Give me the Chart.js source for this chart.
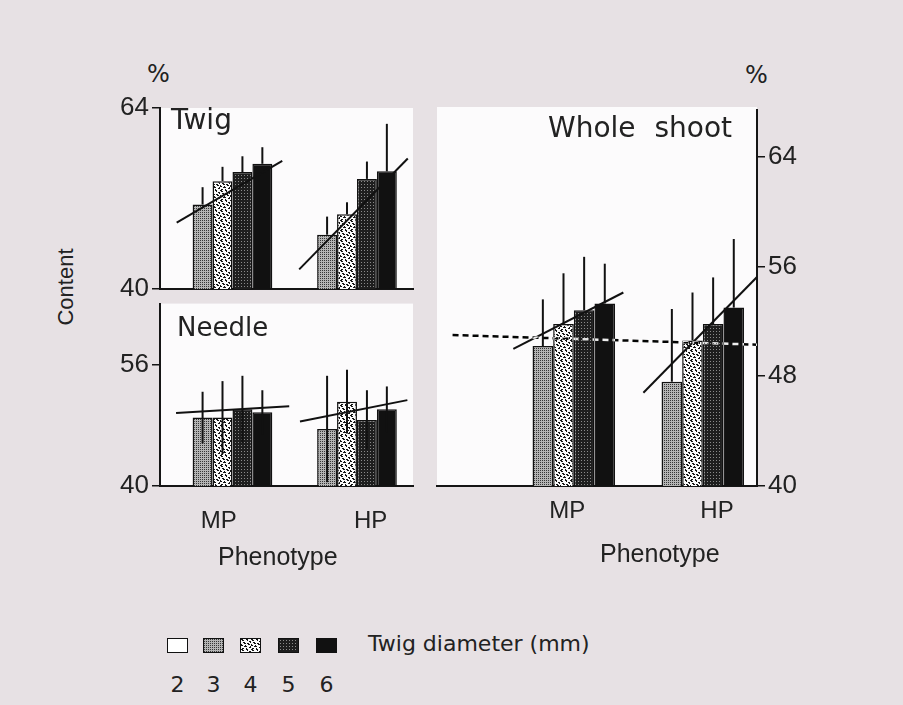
<!DOCTYPE html>
<html>
<head>
<meta charset="utf-8">
<script src="https://cdn.jsdelivr.net/npm/chart.js@4.4.1/dist/chart.umd.min.js"></script>
<style>
  body { margin: 0; width: 903px; height: 705px; background: #e7e1e4; position: relative; overflow: hidden;
         font-family: 'Liberation Sans', Arial, sans-serif; color: #222; }
  .box { position: absolute; }
  .t { position: absolute; line-height: 1; white-space: nowrap; }
  .g { font-family: 'DejaVu Sans', sans-serif; }
  .sw { position: absolute; top: 638px; width: 21px; height: 15px; border: 1.5px solid #111; box-sizing: border-box; }
  .num { position: absolute; top: 672px; font-size: 22px; transform: translateX(-50%); }
</style>
</head>
<body>

<div class="t g" style="left:147px;top:62px;font-size:24px">%</div>
<div class="t g" style="left:745px;top:63px;font-size:24px">%</div>
<div class="t" style="left:66px;top:287px;font-size:22px;transform:translate(-50%,-50%) rotate(-90deg)">Content</div>

<div class="box" style="left:0;top:60px;width:430px;height:250px"><canvas id="twig"></canvas></div>
<div class="box" style="left:0;top:285px;width:430px;height:265px"><canvas id="needle"></canvas></div>
<div class="box" style="left:430px;top:60px;width:473px;height:490px"><canvas id="whole"></canvas></div>

<div class="t g" style="left:171px;top:106px;font-size:28px">Twig</div>
<div class="t g" style="left:177px;top:314px;font-size:26px">Needle</div>
<div class="t g" style="left:548px;top:114px;font-size:28px;word-spacing:10px">Whole shoot</div>

<div class="t" style="left:218px;top:544px;font-size:25px">Phenotype</div>
<div class="t" style="left:600px;top:541px;font-size:25px">Phenotype</div>

<div id="legend"></div>
<div class="t g" style="left:368px;top:633px;font-size:22px">Twig diameter (mm)</div>

<script>
// twig diameter classes (mm) and phenotypes
var diameters = ['2', '3', '4', '5', '6'];
var phenotypes = ['MP', 'HP'];

// Twig content (%), per diameter class; no data for 2 mm
var twigMP = [null, 51.2, 54.3, 55.5, 56.6];
var twigHP = [null, 47.2, 49.9, 54.6, 55.6];
var twigErrMP = [null, 2.3, 1.9, 2.1, 2.2];
var twigErrHP = [null, 2.4, 1.6, 2.3, 6.3];

// Needle
var needleMP = [null, 49.0, 49.0, 50.1, 49.7];
var needleHP = [null, 47.5, 51.1, 48.7, 50.1];
var needleErrMP = [null, 3.4, 4.8, 4.4, 2.9];
var needleErrHP = [null, 7.0, 4.2, 3.9, 3.0];

// Whole shoot
var wholeMP = [null, 50.2, 51.8, 52.8, 53.3];
var wholeHP = [null, 47.6, 50.6, 51.8, 53.0];
var wholeErrMP = [null, 3.4, 3.7, 3.9, 2.9];
var wholeErrHP = [null, 5.3, 3.5, 3.4, 5.0];

// regression lines: [diameter, content] at both ends
var twigRegMP = [[1.7, 48.8], [7.0, 57.0]];
var twigRegHP = [[1.6, 42.6], [7.05, 57.3]];
var needleRegMP = [[1.67, 49.6], [7.35, 50.5]];
var needleRegHP = [[1.64, 48.5], [7.03, 51.3]];
var wholeRegMP = [[1.57, 50.0], [6.9, 54.1]];
var wholeRegHP = [[1.62, 46.8], [7.17, 55.3]];
// dotted reference line in whole shoot (phenotype axis units, content)
var wholeMean = [[0.14, 51.0], [2.5, 50.3]];

// axis ticks
var twigTicks = [40, 64];
var needleTicks = [40, 56];
var wholeTicks = [40, 48, 56, 64];

var catPct = 0.8;

Chart.defaults.font.family = "'Liberation Sans', Arial, sans-serif";
Chart.defaults.color = '#222';

function tile(rows, colors) {
    var c = document.createElement('canvas');
    c.width = rows[0].length;
    c.height = rows.length;
    var x = c.getContext('2d');
    rows.forEach(function (r, j) {
        for (var i = 0; i < r.length; i++) {
            x.fillStyle = colors[r[i]];
            x.fillRect(i, j, 1, 1);
        }
    });
    return c;
}

var tiles = [
    tile(['.'], { '.': '#ffffff' }),
    tile(['dl', 'll'], { d: '#363636', l: '#b4b4b4' }),
    tile([
        '##...##...',
        '.##...#...',
        '........##',
        '..##.....#',
        '...##.##..',
        '#......##.',
        '##..#.....',
        '...###...#',
        '........##',
        '.##..#....'
    ], { '#': '#151515', '.': '#fafafa' }),
    tile(['###', '#o#', '###'], { '#': '#1e1e1e', o: '#8a8a8a' }),
    tile(['#'], { '#': '#111111' })
];

// legend swatches
var legend = document.getElementById('legend');
var swLeft = [167, 203, 240, 278, 316];
diameters.forEach(function (d, k) {
    var s = document.createElement('div');
    s.className = 'sw';
    s.style.left = swLeft[k] + 'px';
    s.style.backgroundImage = 'url(' + tiles[k].toDataURL() + ')';
    legend.appendChild(s);
    var n = document.createElement('div');
    n.className = 'num g';
    n.style.left = (swLeft[k] + 10.5) + 'px';
    n.textContent = d;
    legend.appendChild(n);
});

function xPos(group, d) {
    return group + (d - 4) * catPct / 5;
}

function makeChart(id, mp, hp, errMP, errHP, regMP, regHP, cfg) {
    var ctx = document.getElementById(id).getContext('2d');
    var datasets = [];

    diameters.forEach(function (d, k) {
        datasets.push({
            type: 'bar',
            label: d,
            data: [{ x: 1, y: mp[k] }, { x: 2, y: hp[k] }],
            err: [errMP[k], errHP[k]],
            backgroundColor: ctx.createPattern(tiles[k], 'repeat'),
            borderColor: '#111',
            borderWidth: 1.5,
            categoryPercentage: catPct,
            barPercentage: 1,
            order: 2
        });
    });

    [[regMP, 1], [regHP, 2]].forEach(function (r) {
        datasets.push({
            type: 'line',
            data: r[0].map(function (p) { return { x: xPos(r[1], p[0]), y: p[1] }; }),
            borderColor: '#111',
            borderWidth: 2,
            pointRadius: 0,
            order: 1
        });
    });

    if (cfg.mean) {
        datasets.push({
            type: 'line',
            data: cfg.mean.map(function (p) { return { x: p[0], y: p[1] }; }),
            borderColor: '#ffffff',
            borderWidth: 2.5,
            borderDash: [6, 4],
            pointRadius: 0,
            xor: true,
            order: 0
        });
    }

    var plugins = [{
        id: 'panelBg',
        beforeDraw: function (chart) {
            var a = chart.chartArea;
            chart.ctx.save();
            chart.ctx.fillStyle = '#fcfbfc';
            chart.ctx.fillRect(a.left, a.top - (cfg.bgTop || 0), a.right - a.left, a.bottom - a.top + (cfg.bgTop || 0));
            chart.ctx.restore();
        },
        beforeDatasetDraw: function (chart, args) {
            if (chart.data.datasets[args.index].xor) {
                chart.ctx.save();
                chart.ctx.globalCompositeOperation = 'difference';
            }
        },
        afterDatasetDraw: function (chart, args) {
            if (chart.data.datasets[args.index].xor) chart.ctx.restore();
        },
        afterDatasetsDraw: function (chart) {
            var c = chart.ctx, y = chart.scales.y;
            c.save();
            c.strokeStyle = '#111';
            c.lineWidth = 2;
            chart.data.datasets.forEach(function (ds, i) {
                if (!ds.err) return;
                chart.getDatasetMeta(i).data.forEach(function (bar, j) {
                    var v = ds.data[j].y, e = ds.err[j];
                    if (v == null || e == null) return;
                    c.beginPath();
                    c.moveTo(bar.x, y.getPixelForValue(cfg.both ? v - e : v));
                    c.lineTo(bar.x, y.getPixelForValue(v + e));
                    c.stroke();
                });
            });
            c.restore();
        }
    }];

    return new Chart(ctx, {
        type: 'bar',
        data: { datasets: datasets },
        plugins: plugins,
        options: {
            responsive: true,
            maintainAspectRatio: false,
            animation: false,
            layout: { padding: cfg.padding },
            plugins: { legend: { display: false }, tooltip: { enabled: false } },
            scales: {
                x: {
                    type: 'linear',
                    offset: false,
                    min: cfg.xmin,
                    max: cfg.xmax,
                    grid: { display: false, drawTicks: false, offset: false },
                    border: { color: '#151515', width: 2 },
                    afterBuildTicks: function (s) {
                        s.ticks = cfg.labelPos.map(function (v) { return { value: v }; });
                    },
                    afterFit: function (s) { s.height = cfg.xHeight; },
                    ticks: {
                        display: cfg.showLabels,
                        padding: cfg.labelPad,
                        font: { size: 24 },
                        color: '#222',
                        maxRotation: 0,
                        callback: function (v, i) { return phenotypes[i]; }
                    }
                },
                y: {
                    position: cfg.yPos,
                    min: 40,
                    max: cfg.ymax,
                    grid: { drawOnChartArea: false, tickLength: 8, color: '#151515', lineWidth: 1.5 },
                    border: { color: '#151515', width: 2 },
                    afterBuildTicks: function (s) {
                        s.ticks = cfg.ticks.map(function (v) { return { value: v }; });
                    },
                    afterFit: function (s) { s.width = cfg.yWidth; },
                    ticks: { font: { size: 26 }, color: '#222', padding: 3 }
                }
            }
        }
    });
}

makeChart('twig', twigMP, twigHP, twigErrMP, twigErrHP, twigRegMP, twigRegHP, {
    padding: { top: 48, right: 17, bottom: 21, left: 0 },
    xmin: 0.498, xmax: 2.53, labelPos: [0.97, 2.19], showLabels: false, xHeight: 0, labelPad: 0,
    yPos: 'left', ymax: 64, ticks: twigTicks, yWidth: 160, both: false
});

makeChart('needle', needleMP, needleHP, needleErrMP, needleErrHP, needleRegMP, needleRegHP, {
    padding: { top: 18, right: 17, bottom: 14, left: 0 },
    xmin: 0.498, xmax: 2.53, labelPos: [0.97, 2.19], showLabels: true, xHeight: 50, labelPad: 21,
    yPos: 'left', ymax: 64, ticks: needleTicks, yWidth: 160, both: true
});

makeChart('whole', wholeMP, wholeHP, wholeErrMP, wholeErrHP, wholeRegMP, wholeRegHP, {
    padding: { top: 50, right: 86, bottom: 14, left: 7 },
    xmin: 0.0194, xmax: 2.5, labelPos: [1.03, 2.19], showLabels: true, xHeight: 50, labelPad: 11,
    yPos: 'right', ymax: 67.4, ticks: wholeTicks, yWidth: 60, both: false, mean: wholeMean, bgTop: 3
});
</script>
</body>
</html>
